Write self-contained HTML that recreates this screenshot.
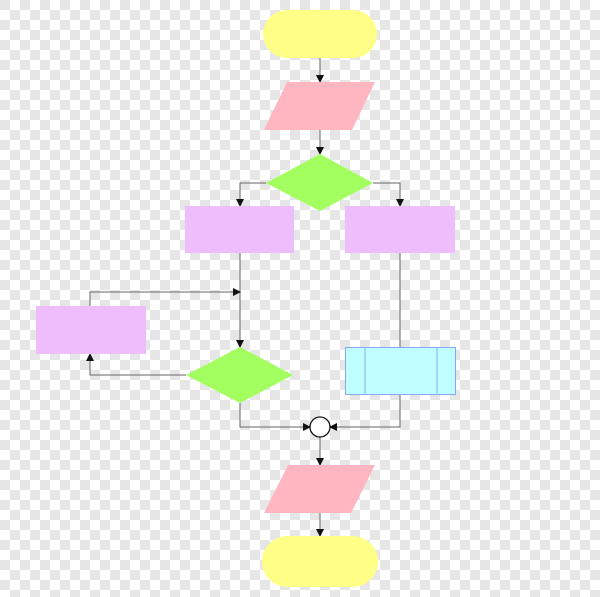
<!DOCTYPE html>
<html><head><meta charset="utf-8"><style>
html,body{margin:0;padding:0;}
body{width:600px;height:597px;overflow:hidden;
background-color:#fff;
background-image:linear-gradient(45deg,#e6e6e6 25%,transparent 25%,transparent 75%,#e6e6e6 75%),linear-gradient(45deg,#e6e6e6 25%,transparent 25%,transparent 75%,#e6e6e6 75%);
background-size:20px 20px;background-position:10px 0,0 10px;}
svg{position:absolute;left:0;top:0;}
</style></head><body>
<svg width="600" height="597" viewBox="0 0 600 597">
<defs><marker id="a" markerWidth="8" markerHeight="8" refX="7" refY="4" orient="auto" markerUnits="userSpaceOnUse"><path d="M0,0 L8,4 L0,8 z" fill="#111"/></marker></defs>
<g stroke="#666" stroke-width="1" fill="none">
<line x1="320" y1="58" x2="320" y2="82" marker-end="url(#a)"/>
<line x1="320" y1="130" x2="320" y2="154" marker-end="url(#a)"/>
<polyline points="266,183 240,183 240,206" marker-end="url(#a)"/>
<polyline points="373,183 400,183 400,206" marker-end="url(#a)"/>
<line x1="240" y1="253" x2="240" y2="347" marker-end="url(#a)"/>
<polyline points="90,306 90,292 240,292" marker-end="url(#a)"/>
<polyline points="186,375 90,375 90,354" marker-end="url(#a)"/>
<line x1="400" y1="253" x2="400" y2="347"/>
<polyline points="400,395 400,427 330,427" marker-end="url(#a)"/>
<polyline points="240,403 240,427 310,427" marker-end="url(#a)"/>
<line x1="320" y1="437" x2="320" y2="465" marker-end="url(#a)"/>
<line x1="320" y1="513" x2="320" y2="536" marker-end="url(#a)"/>
</g>
<rect x="263" y="10" width="114" height="48" rx="24" fill="#ffff88"/>
<polygon points="287,82 375,82 352,130 264,130" fill="#ffb6c1"/>
<polygon points="320,154 373,183 320,211 266,183" fill="#a3ff60"/>
<rect x="185" y="206" width="109" height="47" fill="#eebdfc"/>
<rect x="345" y="206" width="110" height="47" fill="#eebdfc"/>
<rect x="36" y="306" width="110" height="48" fill="#eebdfc"/>
<polygon points="240,347 293,375 240,403 186,375" fill="#a3ff60"/>
<rect x="345.5" y="347.5" width="110" height="47" fill="#c0ffff" stroke="#88a8ff"/>
<line x1="365" y1="347" x2="365" y2="395" stroke="#88a8ff"/>
<line x1="437" y1="347" x2="437" y2="395" stroke="#88a8ff"/>
<circle cx="320" cy="427" r="10" fill="#fff" stroke="#111" stroke-width="1.3"/>
<polygon points="288,465 375,465 351,513 264,513" fill="#ffb6c1"/>
<rect x="262" y="536" width="116" height="51" rx="25.5" fill="#ffff88"/>
</svg>
</body></html>
